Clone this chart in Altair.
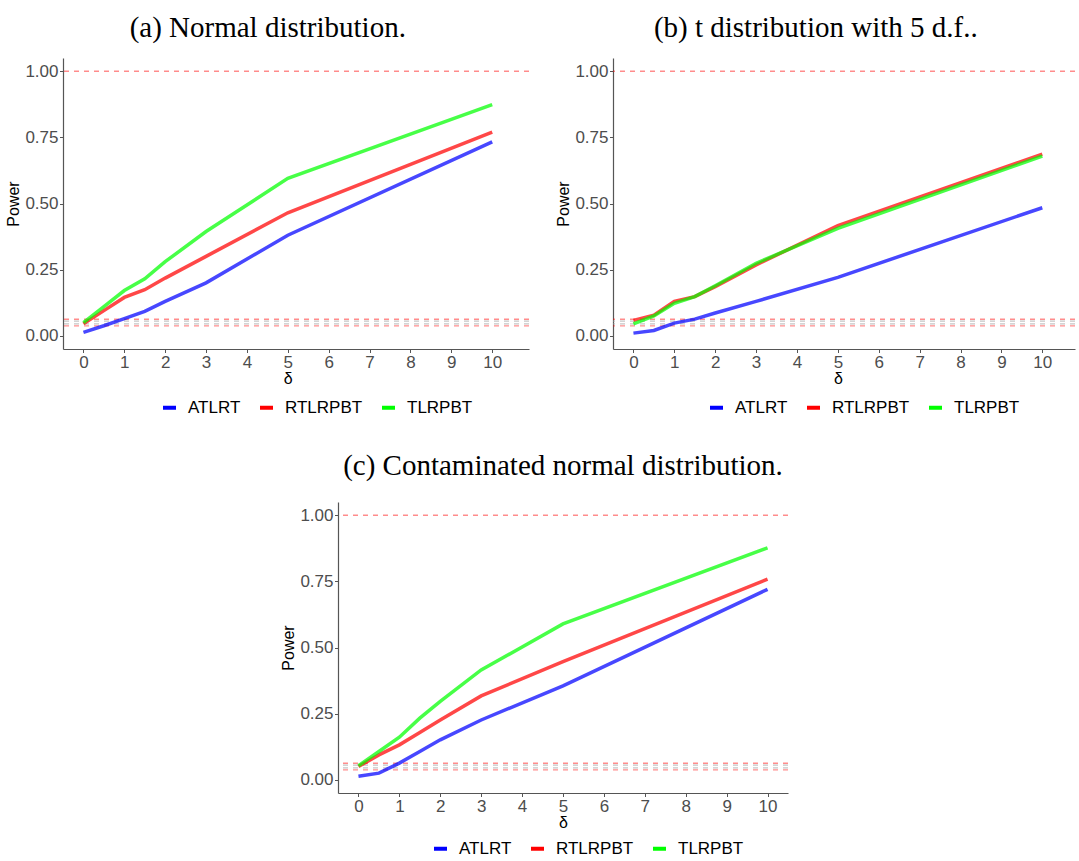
import altair as alt
import pandas as pd

delta = [0, 0.5, 1, 1.5, 2, 3, 5, 10]
tests = ["ATLRT", "RTLRPBT", "TLRPBT"]
colors = ["#0000FF", "#FF0000", "#00FF00"]

# (a) Normal distribution
a_atlrt = [0.013, 0.038, 0.065, 0.092, 0.130, 0.200, 0.380, 0.733]
a_rtlrpbt = [0.045, 0.095, 0.145, 0.174, 0.218, 0.300, 0.465, 0.770]
a_tlrpbt = [0.050, 0.110, 0.171, 0.215, 0.280, 0.394, 0.595, 0.874]

# (b) t distribution with 5 d.f.
b_atlrt = [0.010, 0.020, 0.048, 0.063, 0.086, 0.130, 0.221, 0.484]
b_rtlrpbt = [0.058, 0.078, 0.130, 0.148, 0.186, 0.268, 0.416, 0.687]
b_tlrpbt = [0.045, 0.075, 0.123, 0.148, 0.189, 0.274, 0.406, 0.679]

# (c) Contaminated normal distribution
c_atlrt = [0.013, 0.025, 0.063, 0.107, 0.151, 0.226, 0.355, 0.720]
c_rtlrpbt = [0.050, 0.094, 0.132, 0.179, 0.226, 0.317, 0.447, 0.758]
c_tlrpbt = [0.053, 0.107, 0.161, 0.233, 0.296, 0.415, 0.589, 0.877]

red_refs = [1.0, 0.0625, 0.0375]
gray_refs = [0.055, 0.045]
x_ticks = list(range(11))
y_ticks = [0, 0.25, 0.5, 0.75, 1.0]


def long_df(series):
    rows = []
    for name, vals in zip(tests, series):
        for d, v in zip(delta, vals):
            rows.append({"delta": d, "power": v, "test": name})
    return pd.DataFrame(rows)


def panel(title, series, xmax, width, legend_x, legend_y, frame, title_offset):
    xdom = [-0.5, xmax]
    xscale = alt.Scale(domain=xdom, nice=False, zero=False)
    yscale = alt.Scale(domain=[-0.05, 1.05], nice=False, zero=False)
    title_x = (5 - xdom[0]) / (xdom[1] - xdom[0]) * width
    xaxis = alt.Axis(values=x_ticks, title="δ", titleX=title_x, format="d", titlePadding=0)
    yaxis = alt.Axis(values=y_ticks, format=".2f", title="Power")

    red = alt.Chart(pd.DataFrame({"power": red_refs})).mark_rule(
        color="#FF0000", opacity=0.45, strokeDash=[5, 5], strokeWidth=1.3
    ).encode(y=alt.Y("power:Q", scale=yscale, axis=yaxis))
    gray = alt.Chart(pd.DataFrame({"power": gray_refs})).mark_rule(
        color="#A0A0A0", opacity=0.6, strokeDash=[5, 5], strokeWidth=1.3
    ).encode(y=alt.Y("power:Q", scale=yscale, axis=yaxis))

    lines = alt.Chart(long_df(series)).mark_line(strokeWidth=3.5, opacity=0.72).encode(
        x=alt.X("delta:Q", scale=xscale, axis=xaxis),
        y=alt.Y("power:Q", scale=yscale, axis=yaxis),
        color=alt.Color(
            "test:N",
            scale=alt.Scale(domain=tests, range=colors),
            legend=alt.Legend(
                title=None, orient="none", legendX=legend_x, legendY=legend_y,
                direction="horizontal", labelFont="Liberation Sans", labelFontSize=17,
                labelColor="black", symbolType="stroke", symbolStrokeWidth=4,
                symbolSize=169, symbolOpacity=1, labelOffset=10, columnPadding=11,
            ),
        ),
    )
    return alt.layer(red, gray, lines).properties(
        width=width, height=291,
        title=alt.TitleParams(
            title, font="Liberation Serif", fontSize=29, fontWeight="normal",
            color="black", anchor="middle", frame=frame, offset=title_offset,
        ),
    )


pa = panel("(a) Normal distribution.", [a_atlrt, a_rtlrpbt, a_tlrpbt], 10.9, 466, 98, 341, "bounds", 15)
pb = panel("(b) t distribution with 5 d.f..", [b_atlrt, b_rtlrpbt, b_tlrpbt], 10.8, 462, 95, 341, "bounds", 15)
pc = panel("(c) Contaminated normal distribution.", [c_atlrt, c_rtlrpbt, c_tlrpbt], 10.5, 450, 94, 338, "group", 21)

spacer = alt.Chart(pd.DataFrame({"s": [0]})).mark_point(opacity=0).encode(
    x=alt.X("s:Q", axis=None), y=alt.Y("s:Q", axis=None)
).properties(width=197, height=10)

top = alt.hconcat(pa, pb, spacing=25).resolve_scale(color="independent")
bottom = alt.hconcat(spacer, pc, spacing=20).resolve_scale(color="independent")
chart = alt.vconcat(top, bottom, spacing=36).resolve_scale(
    color="independent"
).properties(
    padding={"left": 5, "top": 14, "right": 0, "bottom": 0},
    background="white",
).configure_axis(
    labelFont="Liberation Sans", labelFontSize=17, labelColor="#4D4D4D",
    titleFont="Liberation Sans", titleFontSize=16, titleColor="black",
    titleFontWeight="normal", grid=False, domainColor="#555555", domainWidth=1.2,
    tickColor="#555555", tickSize=3.5, labelPadding=1.5, titlePadding=3,
).configure_view(strokeWidth=0)

chart.save("out.html", embed_options={"renderer": "svg", "actions": False})
